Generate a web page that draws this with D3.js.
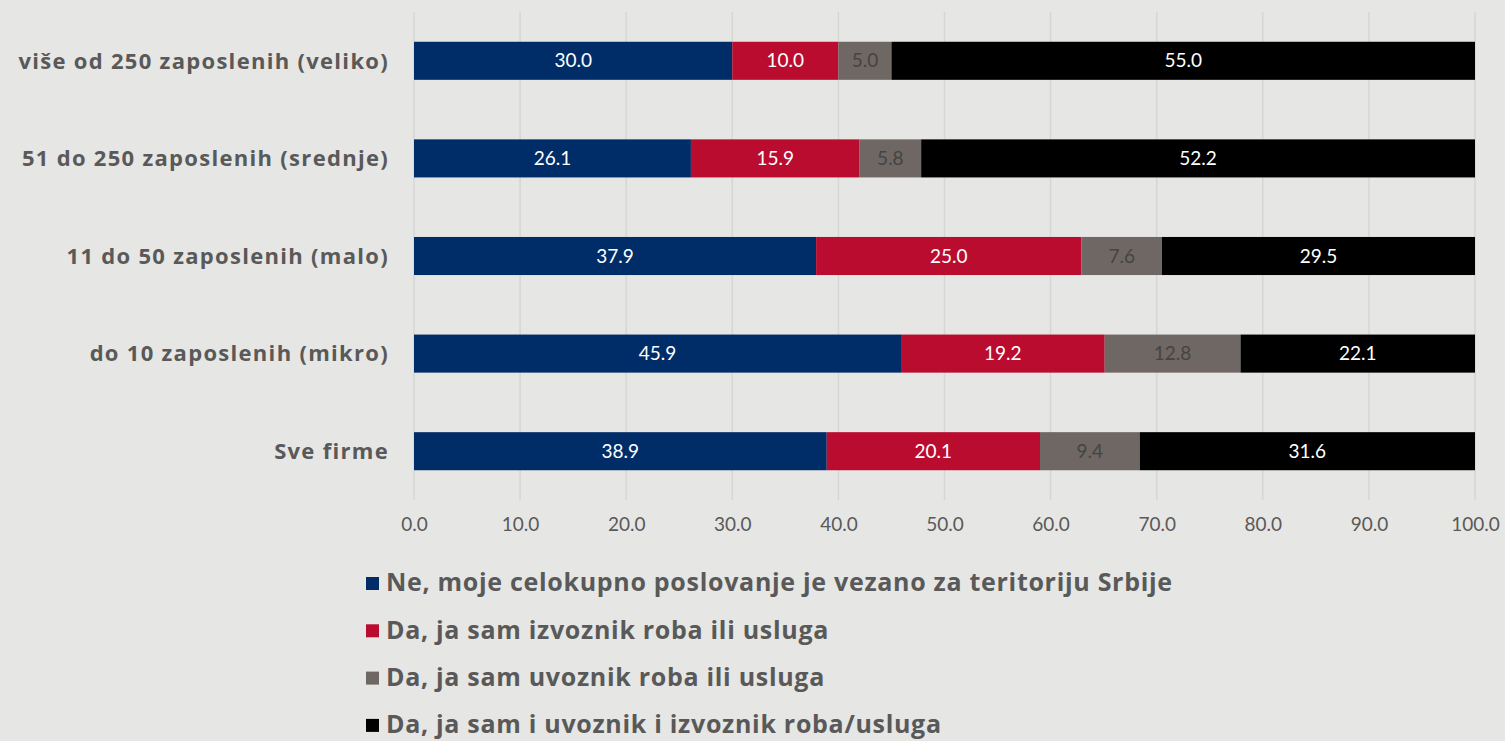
<!DOCTYPE html>
<html>
<head>
<meta charset="utf-8">
<script src="https://cdn.jsdelivr.net/npm/d3@7"></script>
<style>
  body { margin: 0; background: #e6e6e4; }
  svg { display: block; font-family: "Lato", "Open Sans", sans-serif; }
</style>
</head>
<body>
<svg></svg>
<script>
const width = 1505;
const height = 741;

const categories = [
    "više od 250 zaposlenih (veliko)",
    "51 do 250 zaposlenih (srednje)",
    "11 do 50 zaposlenih (malo)",
    "do 10 zaposlenih (mikro)",
    "Sve firme"
];
const seriesNames = [
    "Ne, moje celokupno poslovanje je vezano za teritoriju Srbije",
    "Da, ja sam izvoznik roba ili usluga",
    "Da, ja sam uvoznik roba ili usluga",
    "Da, ja sam i uvoznik i izvoznik roba/usluga"
];
const domestic = [30.0, 26.1, 37.9, 45.9, 38.9];
const exporter = [10.0, 15.9, 25.0, 19.2, 20.1];
const importer = [5.0, 5.8, 7.6, 12.8, 9.4];
const both = [55.0, 52.2, 29.5, 22.1, 31.6];
const ticks = [0, 10, 20, 30, 40, 50, 60, 70, 80, 90, 100];

const colors = ["#002d68", "#ba0c2f", "#6e6764", "#000000"];
const labelColors = ["#ffffff", "#ffffff", "#444444", "#ffffff"];

const rows = categories.map((c, i) => ({
    cat: c, v: [domestic[i], exporter[i], importer[i], both[i]]
}));

let svg = d3.select("svg")
    .attr("width", width)
    .attr("height", height)

svg.append("rect")
    .attr("width", width)
    .attr("height", height)
    .attr("fill", "#e6e6e4")

let x = d3.scaleLinear().domain([0, 100]).range([414, 1475]);
let y = d3.scaleBand().domain(categories).range([12, 500]).paddingInner(0.61).paddingOuter(0.305);

// gridlines
svg.append("g")
    .selectAll("line")
    .data(ticks)
    .join("line")
    .attr("x1", d => x(d))
    .attr("x2", d => x(d))
    .attr("y1", 12)
    .attr("y2", 500)
    .attr("stroke", "#d6d6d4")
    .attr("stroke-width", 1.5)

// tick labels
svg.append("g")
    .attr("transform", "translate(0, 500)")
    .call(d3.axisBottom(x).tickValues(ticks).tickFormat(d3.format(".1f")).tickSize(0).tickPadding(18))
    .call(g => g.select(".domain").remove())
    .selectAll("text")
    .attr("font-family", "Lato, sans-serif")
    .attr("font-size", 19)
    .attr("fill", "#595959")

// category labels
svg.append("g")
    .selectAll("text")
    .data(categories)
    .join("text")
    .attr("x", 389)
    .attr("y", d => y(d) + y.bandwidth() / 2)
    .attr("dy", "0.35em")
    .attr("text-anchor", "end")
    .attr("font-family", "'Open Sans', sans-serif")
    .attr("font-size", 22)
    .attr("font-weight", "bold")
    .attr("letter-spacing", 1.3)
    .attr("fill", "#595959")
    .text(d => d)

// stacked bars
rows.forEach(r => {
    let acc = 0;
    r.v.forEach((val, k) => {
        let x0 = acc;
        acc += val;
        let g = svg.append("g");
        g.append("rect")
            .attr("x", x(x0))
            .attr("y", y(r.cat))
            .attr("width", x(acc) - x(x0))
            .attr("height", y.bandwidth())
            .attr("fill", colors[k])
        g.append("text")
            .attr("x", (x(x0) + x(acc)) / 2)
            .attr("y", y(r.cat) + y.bandwidth() / 2)
            .attr("dy", "0.35em")
            .attr("text-anchor", "middle")
            .attr("font-size", 19)
            .attr("fill", labelColors[k])
            .text(val.toFixed(1))
    })
});

// legend
let legend = svg.append("g")
    .selectAll("g")
    .data(seriesNames)
    .join("g")
    .attr("transform", (d, i) => `translate(366, ${583 + i * 47.3})`)

legend.append("rect")
    .attr("x", 0)
    .attr("y", -6)
    .attr("width", 13)
    .attr("height", 13)
    .attr("fill", (d, i) => colors[i])

legend.append("text")
    .attr("x", 20)
    .attr("y", 0)
    .attr("dy", "0.33em")
    .attr("font-family", "'Open Sans', sans-serif")
    .attr("font-size", 25)
    .attr("font-weight", "bold")
    .attr("letter-spacing", 0.7)
    .attr("fill", "#595959")
    .text(d => d)
</script>
</body>
</html>
